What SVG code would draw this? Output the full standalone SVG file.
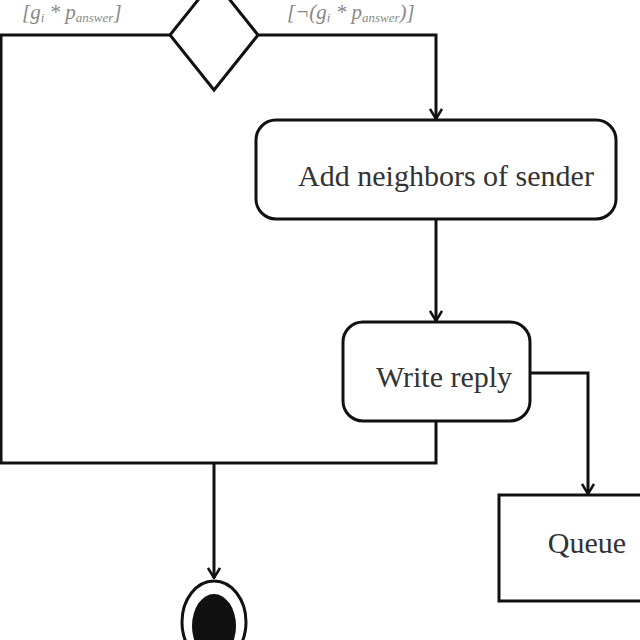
<svg xmlns="http://www.w3.org/2000/svg" width="640" height="640" viewBox="0 0 640 640">
<style>
.ln{fill:none;stroke:#111;stroke-width:3}
.nd{fill:#fff;stroke:#111;stroke-width:3}
.tx{font-family:"Liberation Serif",serif;fill:#333;font-size:30px}
.lb{font-family:"Liberation Serif",serif;fill:#888;font-size:21px;font-style:italic}
.sub{font-size:13px}
</style>
<defs>
<marker id="ar" markerWidth="12" markerHeight="14" refX="11" refY="7" orient="auto" markerUnits="userSpaceOnUse" viewBox="0 0 12 14">
<path d="M1,1 L11,7 L1,13" fill="none" stroke="#111" stroke-width="2.5"/>
</marker>
</defs>
<rect width="640" height="640" fill="#fff"/>
<g id="connectors">
<polyline class="ln" points="170,35 1,35 1,463 436,463 436,421"/>
<polyline class="ln" points="258,35 436,35 436,119" marker-end="url(#ar)"/>
<polyline class="ln" points="436,219 436,321" marker-end="url(#ar)"/>
<polyline class="ln" points="530,373 588,373 588,494" marker-end="url(#ar)"/>
<polyline class="ln" points="214,463 214,578" marker-end="url(#ar)"/>
<text class="lb" x="22" y="19">[g<tspan class="sub" dy="3">i</tspan><tspan dy="-3"> * p</tspan><tspan class="sub" dy="3">answer</tspan><tspan dy="-3">]</tspan></text>
<text class="lb" x="287" y="19">[¬(g<tspan class="sub" dy="3">i</tspan><tspan dy="-3"> * p</tspan><tspan class="sub" dy="3">answer</tspan><tspan dy="-3">)]</tspan></text>
</g>
<g id="decision">
<polygon class="nd" points="214,-20 258,35 214,90 170,35"/>
</g>
<g id="add-neighbors">
<rect class="nd" x="256" y="120" width="360" height="99" rx="20"/>
<text class="tx" x="446" y="186" text-anchor="middle">Add neighbors of sender</text>
</g>
<g id="write-reply">
<rect class="nd" x="343" y="322" width="187" height="99" rx="20"/>
<text class="tx" x="444" y="387" text-anchor="middle">Write reply</text>
</g>
<g id="queue">
<rect class="nd" x="499" y="495" width="160" height="106"/>
<text class="tx" x="587" y="553" text-anchor="middle">Queue</text>
</g>
<g id="final">
<ellipse cx="214" cy="622" rx="32" ry="41" fill="#fff" stroke="#111" stroke-width="3"/>
<ellipse cx="214" cy="626" rx="22" ry="32" fill="#111"/>
</g>
</svg>
